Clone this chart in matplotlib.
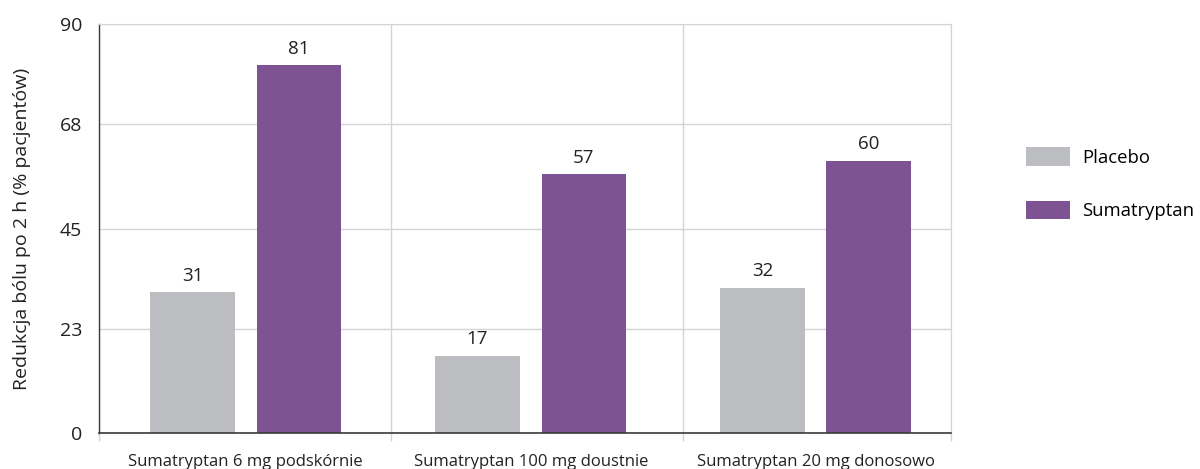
import matplotlib
matplotlib.use("Agg")
import matplotlib.pyplot as plt
import numpy as np

plt.rcParams['font.family'] = ['Open Sans', 'DejaVu Sans']

categories = ["Sumatryptan 6 mg podskórnie", "Sumatryptan 100 mg doustnie",
              "Sumatryptan 20 mg donosowo"]
placebo = [31, 17, 32]
sumatryptan = [81, 57, 60]
series_names = ["Placebo", "Sumatryptan"]
yticks = [0, 23, 45, 68, 90]

GREY = "#bcbdc0"
PURPLE = "#7e5394"
GRID = "#d4d4d4"
DARK = "#3a3a3a"
TXT = "#222222"

fig = plt.figure(figsize=(12, 4.69), dpi=100)
ax = fig.add_axes([0.0825, 0.0761, 0.710, 0.872])

x = np.arange(len(categories))
w = 0.298
off = 0.187
b1 = ax.bar(x - off, placebo, w, color=GREY, label=series_names[0], zorder=3)
b2 = ax.bar(x + off, sumatryptan, w, color=PURPLE, label=series_names[1], zorder=3)
ax.bar_label(b1, padding=5.5, fontsize=13.5, color=TXT)
ax.bar_label(b2, padding=5.5, fontsize=13.5, color=TXT)

# group boundaries (vertical grid) and category label positions
bounds = [-0.515, 0.51, 1.535, 2.475]
ax.set_xlim(bounds[0], bounds[-1])
ax.set_ylim(0, 90)
ax.set_xticks(bounds)
ax.set_xticklabels([])
ax.set_xticks(x, minor=True)
ax.set_xticklabels(categories, minor=True, fontsize=12, color=TXT)
ax.tick_params(axis="x", which="minor", length=0, pad=15)
ax.tick_params(axis="x", which="major", length=6, width=1, color=GRID)
ax.xaxis.get_major_ticks()[0].tick1line.set_color(DARK)

ax.set_yticks(yticks)
ax.set_yticklabels([str(v) for v in yticks], fontsize=14, color=TXT)
ax.tick_params(axis="y", length=0, pad=12)

ax.grid(True, which="major", color=GRID, linewidth=1, zorder=0)
for s in ["top", "right"]:
    ax.spines[s].set_color(GRID)
ax.spines["left"].set_color(DARK)
ax.spines["bottom"].set_color(DARK)
ax.spines["bottom"].set_linewidth(1.2)
ax.spines["left"].set_linewidth(1.0)
ax.spines["bottom"].set_zorder(4)

ax.set_ylabel("Redukcja bólu po 2 h (% pacjentów)", fontsize=14, color=TXT,
              labelpad=21)

ax.legend(loc="upper left", bbox_to_anchor=(1.0885, 0.7), frameon=False,
          fontsize=13.3, handlelength=2.38, handleheight=1.19, handletextpad=0.65,
          labelspacing=1.84, borderaxespad=0, borderpad=0)

fig.savefig("out.png", dpi=100)
